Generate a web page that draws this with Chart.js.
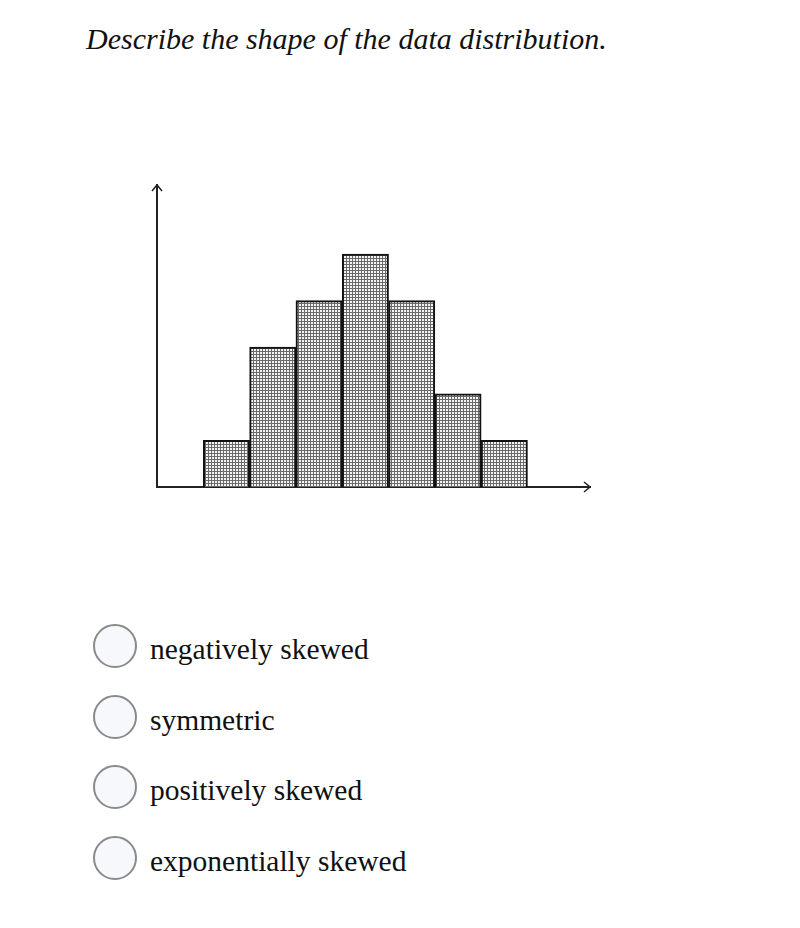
<!DOCTYPE html>
<html>
<head>
<meta charset="utf-8">
<script src="https://cdn.jsdelivr.net/npm/chart.js@4.4.1/dist/chart.umd.min.js"></script>
<style>
  body { margin: 0; background: #fff; width: 800px; height: 928px; position: relative; overflow: hidden; }
  .q { position: absolute; left: 86px; top: 22px; font: italic 30px "Liberation Serif", "DejaVu Serif", serif; color: #111; }
  #wrap { position: absolute; left: 100px; top: 150px; width: 550px; height: 380px; }
  .opt { position: absolute; left: 93px; height: 44px; font: 29.5px "Liberation Serif", serif; color: #111; }
  .opt .c { position: absolute; left: 0; top: 0; width: 40px; height: 40px; border: 2px solid #8a8a8a; border-radius: 50%; background: #f7f8fc; }
  .opt span { position: absolute; left: 57px; top: 9px; white-space: nowrap; }
</style>
</head>
<body>
<div class="q">Describe the shape of the data distribution.</div>
<div id="wrap"><canvas id="hist"></canvas></div>
<div id="opts"></div>
<script>
// histogram data: 7 classes, frequencies
const binCenters = [1.5, 2.5, 3.5, 4.5, 5.5, 6.5, 7.5];
const frequencies = [1, 3, 4, 5, 4, 2, 1];
const choices = ['negatively skewed', 'symmetric', 'positively skewed', 'exponentially skewed'];

// answer choices
const opts = document.getElementById('opts');
choices.forEach((txt, i) => {
    const d = document.createElement('div');
    d.className = 'opt';
    d.style.top = (624 + i * 70.5) + 'px';
    d.innerHTML = '<div class="c"></div><span>' + txt + '</span>';
    opts.appendChild(d);
});

// dotted screen fill like the printed histogram
function makePattern() {
    const p = document.createElement('canvas');
    p.width = 3; p.height = 3;
    const g = p.getContext('2d');
    g.fillStyle = '#f4f4f4';
    g.fillRect(0, 0, 3, 3);
    g.fillStyle = '#6a6a6a';
    g.fillRect(0, 0, 3, 1);
    g.fillRect(0, 0, 1, 3);
    return g.createPattern(p, 'repeat');
}

// open arrow heads at the axis ends
const arrowPlugin = {
    id: 'arrows',
    afterDraw(chart) {
        const a = chart.chartArea;
        const ctx = chart.ctx;
        ctx.save();
        ctx.strokeStyle = '#222';
        ctx.lineWidth = 1.5;
        ctx.beginPath();
        ctx.moveTo(a.left - 5, a.top + 6);
        ctx.lineTo(a.left, a.top);
        ctx.lineTo(a.left + 5, a.top + 6);
        ctx.moveTo(a.right - 6, a.bottom - 5);
        ctx.lineTo(a.right, a.bottom);
        ctx.lineTo(a.right - 6, a.bottom + 5);
        ctx.stroke();
        ctx.restore();
    }
};

const ctx = document.getElementById('hist');
new Chart(ctx, {
    type: 'bar',
    data: {
        datasets: [{
            data: binCenters.map((x, i) => ({ x: x, y: frequencies[i] })),
            backgroundColor: makePattern(),
            borderColor: '#111',
            borderWidth: 2,
            borderSkipped: 'bottom',
            barPercentage: 1,
            categoryPercentage: 1,
        }]
    },
    options: {
        responsive: true,
        maintainAspectRatio: false,
        animation: false,
        layout: { padding: { left: 57, right: 60, top: 35, bottom: 43 } },
        scales: {
            x: {
                type: 'linear',
                offset: false,
                min: 0,
                max: 9.35,
                grid: { display: false, drawTicks: false, offset: false },
                border: { display: true, color: '#222', width: 2 },
                ticks: { display: false },
            },
            y: {
                min: 0,
                max: 6.48,
                grid: { display: false, drawTicks: false },
                border: { display: true, color: '#222', width: 2 },
                ticks: { display: false },
            }
        },
        plugins: {
            legend: { display: false },
            tooltip: { enabled: false },
        },
    },
    plugins: [arrowPlugin]
});
</script>
</body>
</html>
